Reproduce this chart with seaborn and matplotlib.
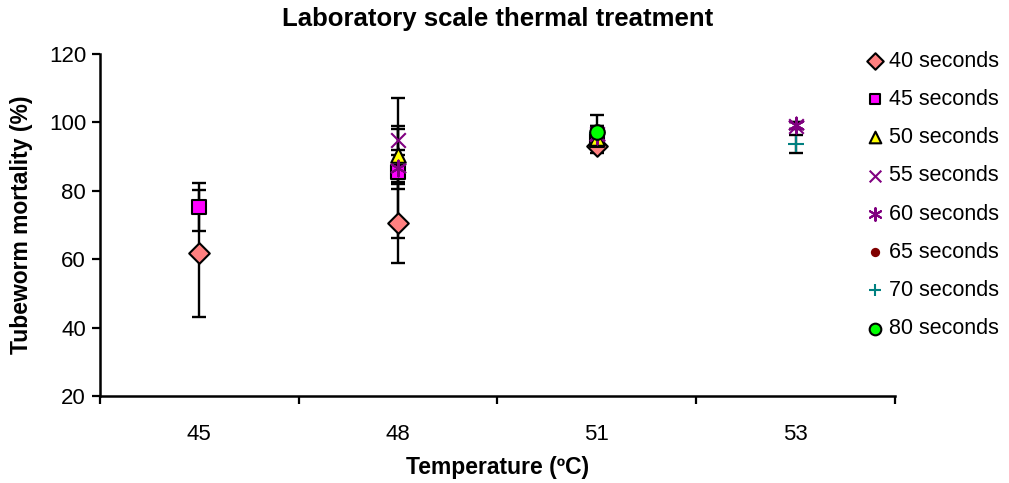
import numpy as np
import pandas as pd
import matplotlib
matplotlib.use("Agg")
import matplotlib.pyplot as plt
import seaborn as sns

temperatures = ["45", "48", "51", "53"]
series_names = ["40 seconds", "45 seconds", "50 seconds", "55 seconds",
                "60 seconds", "65 seconds", "70 seconds", "80 seconds"]

# mortality (%) per series, per temperature (NaN = not tested)
nan = np.nan
m40 = [61.7, 70.7, 93.0, nan]
m45 = [75.3, 85.5, 95.0, nan]
m50 = [nan, 90.5, 95.5, nan]
m55 = [nan, 95.0, 96.5, 99.0]
m60 = [nan, 86.7, 96.0, 99.2]
m65 = [nan, nan, 97.0, nan]
m70 = [nan, nan, 97.0, 93.7]
m80 = [nan, nan, 97.3, nan]

e40 = [18.5, 11.8, 2.0, nan]
e45 = [6.9, 5.0, 2.0, nan]
e50 = [nan, 8.5, 2.0, nan]
e55 = [nan, 3.0, 2.0, 1.0]
e60 = [nan, 20.5, 2.0, 1.0]
e65 = [nan, nan, 2.0, nan]
e70 = [nan, nan, 2.0, 2.7]
e80 = [nan, nan, 4.9, nan]

values = [m40, m45, m50, m55, m60, m65, m70, m80]
errors = [e40, e45, e50, e55, e60, e65, e70, e80]

styles = [
    dict(marker="D", color="#FF8080", edgecolor="black", s=110, linewidth=1.5),
    dict(marker="s", color="#FF00FF", edgecolor="black", s=95, linewidth=1.5),
    dict(marker="^", color="#FFFF00", edgecolor="black", s=110, linewidth=1.5),
    dict(marker="x", color="#800080", s=110, linewidth=1.5),
    dict(marker=(6, 2, 0), color="#800080", s=130, linewidth=1.5),
    dict(marker="o", color="#800000", edgecolor="#800000", s=70, linewidth=0),
    dict(marker="+", color="#008080", s=130, linewidth=1.5),
    dict(marker="o", color="#00FF00", edgecolor="black", s=110, linewidth=1.5),
]

sns.set_style("ticks")
plt.rcParams["font.family"] = ["Liberation Sans", "DejaVu Sans"]
plt.rcParams["text.color"] = "black"
plt.rcParams["axes.labelcolor"] = "black"
plt.rcParams["xtick.color"] = "black"
plt.rcParams["ytick.color"] = "black"

fig = plt.figure(figsize=(10.09, 4.83), dpi=100)
ax = fig.add_axes([0.099, 0.180, 0.788, 0.708])

xpos = np.arange(len(temperatures))

# error bars behind markers
for vals, errs in zip(values, errors):
    v = np.array(vals, dtype=float)
    e = np.array(errs, dtype=float)
    ok = ~np.isnan(v)
    ax.errorbar(xpos[ok], v[ok], yerr=e[ok], fmt="none", ecolor="black",
                elinewidth=1.7, capsize=5, capthick=1.7, zorder=1)

for name, vals, st in zip(series_names, values, styles):
    df = pd.DataFrame({"x": xpos, "y": vals}).dropna()
    sns.scatterplot(data=df, x="x", y="y", ax=ax, label=name, zorder=3, **st)

ax.set_xlim(-0.5, 3.5)
ax.set_ylim(20, 120)
ax.set_yticks([20, 40, 60, 80, 100, 120])
ax.set_xticks(np.arange(-0.5, 4.0, 1.0))
ax.set_xticklabels([])
ax.set_xticks(xpos, minor=True)
ax.set_xticklabels(temperatures, minor=True)
ax.tick_params(axis="x", which="minor", length=0, pad=20, labelsize=16)
ax.tick_params(axis="x", which="major", length=6, width=1.6, direction="out")
ax.tick_params(axis="y", length=6, width=1.6, direction="out", labelsize=16, pad=4)

for sp in ["top", "right"]:
    ax.spines[sp].set_visible(False)
for sp in ["left", "bottom"]:
    ax.spines[sp].set_linewidth(1.8)
    ax.spines[sp].set_color("black")

ax.set_xlabel("Temperature (ºC)", fontsize=16.5, fontweight="bold", labelpad=8)
ax.set_ylabel("Tubeworm mortality (%)", fontsize=16.5, fontweight="bold", labelpad=11)
ax.set_title("Laboratory scale thermal treatment", fontsize=18.5, fontweight="bold", pad=20)

leg = ax.legend(loc="upper left", bbox_to_anchor=(0.849, 0.913),
                bbox_transform=fig.transFigure, frameon=False, fontsize=15.5,
                handletextpad=0.2, labelspacing=0.80, borderaxespad=0,
                handlelength=0.9, markerscale=0.8)

fig.savefig("out.png", dpi=100)
